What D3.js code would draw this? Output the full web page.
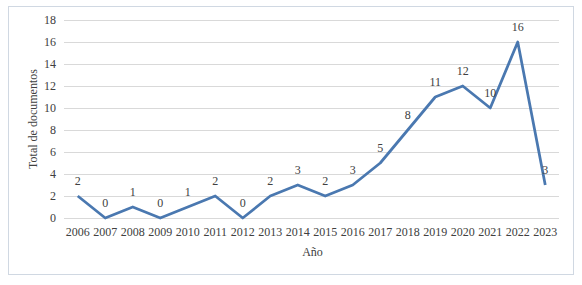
<!DOCTYPE html>
<html><head><meta charset="utf-8">
<script src="https://cdn.jsdelivr.net/npm/d3@7"></script>
<style>body{margin:0;background:#fff;}svg{display:block;}</style>
</head><body><svg id="c" width="582" height="285"></svg>
<script>
const years = ["2006","2007","2008","2009","2010","2011","2012","2013","2014","2015","2016","2017","2018","2019","2020","2021","2022","2023"];
const counts = [2,0,1,0,1,2,0,2,3,2,3,5,8,11,12,10,16,3];
const yTicks = [0,2,4,6,8,10,12,14,16,18];

const svg = d3.select("#c");
const font = "'Liberation Serif','Times New Roman',serif";
svg.append("rect").attr("x",8.5).attr("y",6.5).attr("width",565).attr("height",268)
  .attr("fill","#fff").attr("stroke","#d0d8e2").attr("stroke-width",1);

const m = {l:64, r:559, t:20, b:218};
const x = d3.scaleBand().domain(years).range([m.l,m.r]);
const y = d3.scaleLinear().domain([0,18]).range([m.b,m.t]);

const grid = svg.append("g");
grid.selectAll("line").data(yTicks).join("line")
  .attr("x1",m.l).attr("x2",m.r)
  .attr("y1",d=>Math.round(y(d))+0.5).attr("y2",d=>Math.round(y(d))+0.5)
  .attr("stroke","#d9d9d9").attr("stroke-width",1);

const yAxis = svg.append("g").attr("transform",`translate(${m.l},0)`)
  .call(d3.axisLeft(y).tickValues(yTicks).tickSize(0).tickPadding(8));
yAxis.select(".domain").remove();
yAxis.selectAll("text").attr("font-family",font).attr("font-size",12).attr("fill","#404040");

const xAxis = svg.append("g").attr("transform",`translate(0,${m.b})`)
  .call(d3.axisBottom(x).tickSize(0).tickPadding(9));
xAxis.select(".domain").remove();
xAxis.selectAll("text").attr("font-family",font).attr("font-size",12).attr("fill","#404040");

svg.append("text").attr("x",(m.l+m.r)/2+1).attr("y",256).attr("text-anchor","middle")
  .attr("font-family",font).attr("font-size",12).attr("fill","#404040").text("Año");
svg.append("text").attr("transform",`translate(37,${(m.t+m.b)/2}) rotate(-90)`).attr("text-anchor","middle")
  .attr("font-family",font).attr("font-size",12).attr("fill","#404040").text("Total de documentos");

const pts = years.map((yr,i)=>({yr, v:counts[i]}));
svg.append("path").datum(pts)
  .attr("d", d3.line().x(d=>x(d.yr)+x.bandwidth()/2).y(d=>y(d.v)))
  .attr("fill","none").attr("stroke","#4a78b0").attr("stroke-width",2.75).attr("stroke-linejoin","round");

svg.append("g").selectAll("text").data(pts).join("text")
  .attr("x",d=>x(d.yr)+x.bandwidth()/2).attr("y",d=>y(d.v)-11)
  .attr("text-anchor","middle").attr("font-family",font).attr("font-size",12).attr("fill","#404040")
  .text(d=>d.v);
</script></body></html>
